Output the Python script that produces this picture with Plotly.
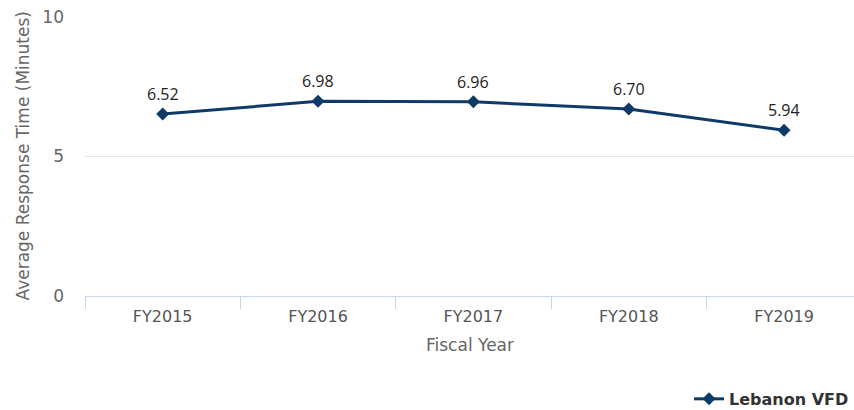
import plotly.graph_objects as go

# Average response time per fiscal year
years = ["FY2015", "FY2016", "FY2017", "FY2018", "FY2019"]
response_minutes = [6.52, 6.98, 6.96, 6.70, 5.94]
series_name = "Lebanon VFD"

y_ticks = [0, 5, 10]

FONT = "DejaVu Sans, Verdana, sans-serif"
LABEL_FONT = "Open Sans, DejaVu Sans, sans-serif"
LINE_COLOR = "#0f3a68"

fig = go.Figure()
fig.add_trace(go.Scatter(
    x=years,
    y=response_minutes,
    mode="lines+markers",
    name=series_name,
    line=dict(color=LINE_COLOR, width=3),
    marker=dict(symbol="diamond", size=10, color=LINE_COLOR),
    cliponaxis=False,
))

# value labels above each point
value_labels = [
    dict(
        x=yr, y=v, xref="x", yref="y",
        text=f"{v:.2f}",
        showarrow=False,
        yanchor="middle", yshift=20,
        font=dict(family=LABEL_FONT, size=16, color="#222222"),
    )
    for yr, v in zip(years, response_minutes)
]

fig.update_layout(
    width=854,
    height=410,
    margin=dict(l=85, r=0, t=17, b=114, autoexpand=False),
    paper_bgcolor="white",
    plot_bgcolor="white",
    font=dict(family=FONT, size=16, color="#666666"),
    showlegend=True,
    legend=dict(
        orientation="h",
        xref="container", yref="container",
        x=1.0, xanchor="right",
        y=0.027, yanchor="middle",
        font=dict(family=FONT, size=16, color="#333333", weight="bold"),
        itemwidth=30,
    ),
    xaxis=dict(
        type="category",
        categoryorder="array",
        categoryarray=years,
        range=[-0.5, 4.45],
        showgrid=False,
        showline=True,
        linecolor="#ccd6eb",
        linewidth=1,
        ticks="outside",
        tickson="boundaries",
        ticklen=12,
        tickcolor="#ccd6eb",
        ticklabelstandoff=6,
        tickfont=dict(family=FONT, size=16, color="#555555"),
        zeroline=False,
    ),
    yaxis=dict(
        range=[0, 10],
        tickvals=y_ticks,
        showgrid=True,
        gridcolor="#e6e6e6",
        gridwidth=1,
        zeroline=False,
        showline=False,
        ticklabelstandoff=20,
        tickfont=dict(family=FONT, size=17, color="#666666"),
    ),
    annotations=value_labels + [
        dict(
            text="Average Response Time (Minutes)",
            xref="paper", yref="paper",
            x=0, y=0.5,
            xanchor="center", yanchor="middle",
            xshift=-63,
            textangle=-90,
            showarrow=False,
            font=dict(family=FONT, size=17, color="#666666"),
        ),
        dict(
            text="Fiscal Year",
            xref="paper", yref="paper",
            x=0.5, y=0,
            xanchor="center", yanchor="middle",
            yshift=-49,
            showarrow=False,
            font=dict(family=FONT, size=17, color="#666666"),
        ),
    ],
)

fig.write_html("out.html")
